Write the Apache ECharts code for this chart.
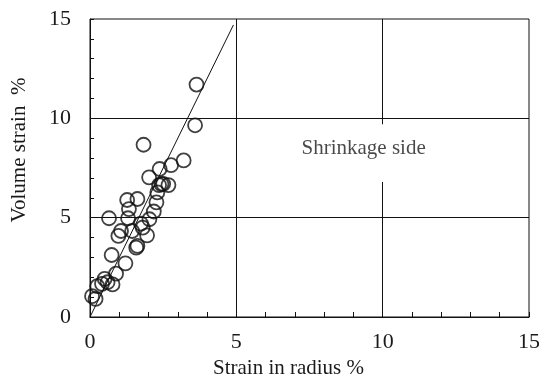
<!DOCTYPE html>
<html>
<head>
<meta charset="utf-8">
<script src="https://cdn.jsdelivr.net/npm/echarts@6/dist/echarts.min.js"></script>
<style>
  html, body { margin: 0; padding: 0; background: #fff; }
  #main { width: 539px; height: 379px; }
</style>
</head>
<body>
<div id="main"></div>
<script>
// measured points: strain in radius (%), volume strain (%)
var radiusStrain = [3.64, 3.59, 1.83, 3.20, 2.77, 2.38, 2.02, 2.68, 2.44, 2.36,
  2.30, 2.27, 2.18, 2.03, 1.27, 1.62, 1.33, 1.30, 0.65, 1.06,
  0.97, 1.44, 1.74, 1.80, 1.95, 1.58, 1.62, 0.74, 1.21, 0.89,
  0.50, 0.41, 0.60, 0.77, 0.25, 0.07, 0.19, 2.50];
var volumeStrain = [11.70, 9.65, 8.67, 7.88, 7.64, 7.45, 7.03, 6.64, 6.69, 6.64,
  6.27, 5.77, 5.31, 4.92, 5.89, 5.94, 5.43, 4.97, 4.97, 4.33,
  4.08, 4.33, 4.70, 4.50, 4.11, 3.49, 3.58, 3.12, 2.70, 2.18,
  1.92, 1.67, 1.75, 1.64, 1.55, 1.05, 0.91, 6.70];
// fitted line  (volume strain = 3 x radial strain)
var fitX = [0, 4.9];
var fitY = [0, 14.7];
var majorTicks = [0, 5, 10, 15];

var pts = [];
for (var i = 0; i < radiusStrain.length; i++) {
  pts.push([radiusStrain[i], volumeStrain[i]]);
}
var fit = [[fitX[0], fitY[0]], [fitX[1], fitY[1]]];

var font = 'Liberation Serif';
var myChart = echarts.init(document.getElementById('main'));
var option = {
  animation: false,
  backgroundColor: '#fff',
  grid: {
    left: 90, right: 10, top: 19, bottom: 62,
    outerBoundsMode: 'none',
    show: true, borderColor: '#111', borderWidth: 1
  },
  xAxis: {
    type: 'value', min: 0, max: 15, interval: 1,
    name: 'Strain in radius %',
    nameLocation: 'middle', nameGap: 40,
    nameTextStyle: { fontFamily: font, fontSize: 21, color: '#1a1a1a', padding: [0, 42, 0, 0] },
    axisLine: { lineStyle: { color: '#111', width: 1 } },
    axisTick: { inside: true, length: 5, lineStyle: { color: '#111' } },
    axisLabel: {
      fontFamily: font, fontSize: 22, color: '#1a1a1a', margin: 14,
      formatter: function (v) { return majorTicks.indexOf(v) >= 0 ? v : ''; }
    },
    splitLine: { show: false }
  },
  yAxis: {
    type: 'value', min: 0, max: 15, interval: 1,
    name: 'Volume strain  %',
    nameLocation: 'middle', nameGap: 60,
    nameTextStyle: { fontFamily: font, fontSize: 21, color: '#1a1a1a', padding: [0, 0, 0, 36] },
    axisLine: { lineStyle: { color: '#111', width: 1 } },
    axisTick: { inside: true, length: 4, lineStyle: { color: '#111' } },
    axisLabel: {
      fontFamily: font, fontSize: 22, color: '#1a1a1a', margin: 19,
      formatter: function (v) { return majorTicks.indexOf(v) >= 0 ? v : ''; }
    },
    splitLine: { show: false }
  },
  series: [
    {
      type: 'line',
      data: fit,
      symbol: 'none',
      lineStyle: { color: '#111', width: 1 },
      z: 3,
      markLine: {
        silent: true,
        symbol: 'none',
        label: { show: false },
        lineStyle: { color: '#111', width: 1, type: 'solid' },
        data: [
          [{ coord: [5, 0] }, { coord: [5, 15] }],
          [{ coord: [0, 5] }, { coord: [15, 5] }],
          [{ coord: [0, 10] }, { coord: [15, 10] }],
          [{ coord: [10, 9.7] }, { coord: [10, 15] }],
          [{ coord: [10, 0] }, { coord: [10, 6.8] }]
        ]
      }
    },
    {
      type: 'scatter',
      data: pts,
      symbol: 'circle',
      symbolSize: 14,
      itemStyle: { color: 'rgba(0,0,0,0)', borderColor: '#111', borderWidth: 1.8 },
      z: 4
    },
    {
      type: 'scatter',
      data: [[9.35, 8.5]],
      symbolSize: 0,
      silent: true,
      label: {
        show: true, position: 'inside',
        formatter: 'Shrinkage side',
        fontFamily: font, fontSize: 21, color: '#1a1a1a'
      }
    }
  ]
};
myChart.setOption(option);
</script>
</body>
</html>
